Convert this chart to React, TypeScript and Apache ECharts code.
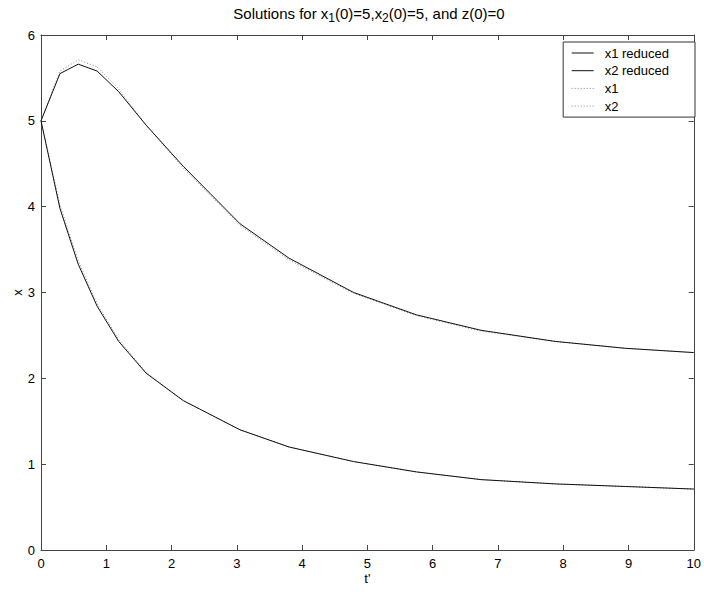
import React, { useEffect, useRef } from "react";
import * as echarts from "echarts";

const tValues = [0, 0.29, 0.57, 0.86, 1.19, 1.61, 2.18, 3.05, 3.8, 4.79, 5.75, 6.74, 7.88, 8.95, 10];
const x1Reduced = [5, 5.55, 5.66, 5.58, 5.34, 4.95, 4.47, 3.8, 3.4, 3.0, 2.74, 2.56, 2.43, 2.35, 2.3];
const x2Reduced = [5, 3.98, 3.33, 2.84, 2.43, 2.06, 1.74, 1.4, 1.2, 1.03, 0.91, 0.82, 0.77, 0.74, 0.71];
const x1Full = [5, 5.58, 5.71, 5.63, 5.37, 4.95, 4.45, 3.78, 3.38, 2.99, 2.73, 2.55, 2.43, 2.35, 2.3];
const x2Full = [5, 4.02, 3.37, 2.87, 2.45, 2.07, 1.74, 1.4, 1.2, 1.03, 0.91, 0.82, 0.77, 0.74, 0.71];
const seriesNames = ["x1 reduced", "x2 reduced", "x1", "x2"];

const FONT = "'Liberation Sans', Arial, sans-serif";
const AXIS_COLOR = "#444";

function pairs(ys: number[]) {
  return tValues.map((t, i) => [t, ys[i]]);
}

export default function App() {
  const ref = useRef<HTMLDivElement>(null);
  useEffect(() => {
    if (!ref.current) return;
    const chart = echarts.init(ref.current, undefined, { renderer: "svg" });
    const axisCommon = {
      axisLine: { show: true, onZero: false, lineStyle: { color: AXIS_COLOR, width: 1 } },
      axisTick: { show: true, inside: true, length: 5, lineStyle: { color: AXIS_COLOR } },
      splitLine: { show: false },
    };
    const solid = (name: string, ys: number[]) => ({
      name,
      type: "line",
      data: pairs(ys),
      showSymbol: false,
      symbol: "none",
      lineStyle: { color: "#111", width: 1, type: "solid" },
      itemStyle: { color: "#111" },
      z: 3,
    });
    const dotted = (name: string, ys: number[]) => ({
      name,
      type: "line",
      data: pairs(ys),
      showSymbol: false,
      symbol: "none",
      lineStyle: { color: "#888", width: 1, type: [1, 2] },
      itemStyle: { color: "#888" },
      z: 2,
    });
    chart.setOption({
      animation: false,
      backgroundColor: "#fff",
      textStyle: { fontFamily: FONT },
      grid: { left: 41, right: 8, top: 35, bottom: 42, containLabel: false },
      xAxis: [
        {
          type: "value",
          min: 0,
          max: 10,
          interval: 1,
          position: "bottom",
          name: "t'",
          nameLocation: "middle",
          nameGap: 22,
          nameMoveOverlap: false,
          nameTextStyle: { color: "#000", fontSize: 13, fontFamily: FONT },
          axisLabel: { color: "#000", fontSize: 13, margin: 7, fontFamily: FONT },
          ...axisCommon,
        },
        {
          type: "value",
          min: 0,
          max: 10,
          interval: 1,
          position: "top",
          axisLabel: { show: false },
          ...axisCommon,
        },
      ],
      yAxis: [
        {
          type: "value",
          min: 0,
          max: 6,
          interval: 1,
          position: "left",
          name: "x",
          nameLocation: "middle",
          nameGap: 17,
          nameMoveOverlap: false,
          nameTextStyle: { color: "#000", fontSize: 13, fontFamily: FONT },
          axisLabel: { color: "#000", fontSize: 13, margin: 6, fontFamily: FONT },
          ...axisCommon,
        },
        {
          type: "value",
          min: 0,
          max: 6,
          interval: 1,
          position: "right",
          axisLabel: { show: false },
          ...axisCommon,
        },
      ],
      legend: {
        orient: "vertical",
        right: 9,
        top: 42,
        data: seriesNames,
        backgroundColor: "#fff",
        borderColor: "#333",
        borderWidth: 1,
        borderRadius: 0,
        padding: [4, 26, 4, 8],
        itemWidth: 22,
        itemHeight: 14,
        itemGap: 3.7,
        itemStyle: { opacity: 0 },
        lineStyle: { width: 1 },
        textStyle: { color: "#000", fontSize: 13, fontFamily: FONT, padding: [0, 0, 0, 6], lineHeight: 14 },
      },
      graphic: [
        {
          type: "text",
          x: 369,
          y: 13,
          style: {
            text: "Solutions for x{s|1}(0)=5,x{s|2}(0)=5, and z(0)=0",
            font: "15px " + FONT,
            fill: "#000",
            align: "center",
            verticalAlign: "middle",
            rich: {
              s: { fontSize: 12, fontFamily: FONT, padding: [10, 0, 0, 0], fill: "#000" },
            },
          },
        },
      ],
      series: [
        solid(seriesNames[0], x1Reduced),
        solid(seriesNames[1], x2Reduced),
        dotted(seriesNames[2], x1Full),
        dotted(seriesNames[3], x2Full),
      ],
    });
    return () => chart.dispose();
  }, []);
  return (
    <div
      ref={ref}
      style={{ position: "fixed", left: 0, top: 0, width: 704, height: 592, background: "#fff" }}
    />
  );
}
